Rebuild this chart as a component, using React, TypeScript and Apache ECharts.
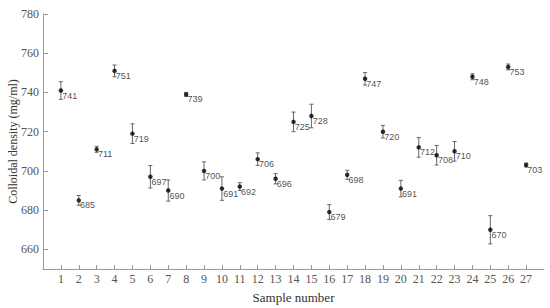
import React, { useEffect, useRef } from "react";
import * as echarts from "echarts";

const samples = [1, 2, 3, 4, 5, 6, 7, 8, 9, 10, 11, 12, 13, 14, 15, 16, 17, 18, 19, 20, 21, 22, 23, 24, 25, 26, 27];
const densities = [741, 685, 711, 751, 719, 697, 690, 739, 700, 691, 692, 706, 696, 725, 728, 679, 698, 747, 720, 691, 712, 708, 710, 748, 670, 753, 703];
const errors = [4.5, 2.5, 1.5, 3, 5, 5.7, 5.4, 1, 4.6, 6, 2, 3.2, 2.6, 5, 6, 3.8, 2.3, 3.2, 3.2, 4.2, 5, 5, 5, 1.5, 7.2, 1.5, 1];
const yTicks = [660, 680, 700, 720, 740, 760, 780];

export default function App() {
  const ref = useRef<HTMLDivElement>(null);
  useEffect(() => {
    if (!ref.current) return;
    const chart = echarts.init(ref.current, null, { renderer: "svg" });
    const serif = "Liberation Serif";
    const pts = samples.map((s, i) => [s, densities[i]]);
    const errData = samples.map((s, i) => [s, densities[i] - errors[i], densities[i] + errors[i]]);
    chart.setOption({
      animation: false,
      grid: { left: 43, right: 6, top: 14, bottom: 39, outerBoundsMode: "none", containLabel: false },
      xAxis: {
        type: "value",
        min: 0,
        max: 28,
        interval: 1,
        name: "Sample number",
        nameLocation: "middle",
        nameGap: 22,
        nameTextStyle: { fontFamily: serif, fontSize: 13, color: "#333" },
        axisLine: { lineStyle: { color: "#999", width: 1 } },
        axisTick: { inside: true, length: 4, lineStyle: { color: "#999" }, customValues: samples },
        axisLabel: { fontFamily: serif, fontSize: 12, color: "#555", margin: 4, customValues: samples },
        splitLine: { show: false },
      },
      yAxis: {
        type: "value",
        min: 650,
        max: 780,
        name: "Colloidal density (mg/ml)",
        nameLocation: "middle",
        nameGap: 24,
        nameMoveOverlap: false,
        nameTextStyle: { fontFamily: serif, fontSize: 12, color: "#333" },
        axisLine: { show: true, lineStyle: { color: "#999", width: 1 } },
        axisTick: { show: true, inside: true, length: 5, lineStyle: { color: "#999" }, customValues: yTicks },
        axisLabel: { fontFamily: serif, fontSize: 12, color: "#555", margin: 4, customValues: yTicks },
        splitLine: { show: false },
      },
      series: [
        {
          type: "custom",
          data: errData,
          z: 1,
          renderItem: (params: any, api: any) => {
            const x = api.value(0);
            const lo = api.coord([x, api.value(1)]);
            const hi = api.coord([x, api.value(2)]);
            const w = 2;
            const style = { stroke: "#666", lineWidth: 1, fill: "none" };
            return {
              type: "group",
              children: [
                { type: "line", shape: { x1: lo[0], y1: lo[1], x2: hi[0], y2: hi[1] }, style },
                { type: "line", shape: { x1: lo[0] - w, y1: lo[1], x2: lo[0] + w, y2: lo[1] }, style },
                { type: "line", shape: { x1: hi[0] - w, y1: hi[1], x2: hi[0] + w, y2: hi[1] }, style },
              ],
            };
          },
        },
        {
          type: "scatter",
          data: pts,
          z: 2,
          symbol: "circle",
          symbolSize: 4.5,
          itemStyle: { color: "#000" },
          label: {
            show: true,
            position: "right",
            distance: 0,
            offset: [-1, 5],
            formatter: (p: any) => String(p.value[1]),
            fontFamily: "Liberation Sans",
            fontSize: 9,
            color: "#222",
          },
        },
      ],
    });
    return () => chart.dispose();
  }, []);
  return <div ref={ref} style={{ width: 550, height: 308, position: "absolute", left: 0, top: 0 }} />;
}
